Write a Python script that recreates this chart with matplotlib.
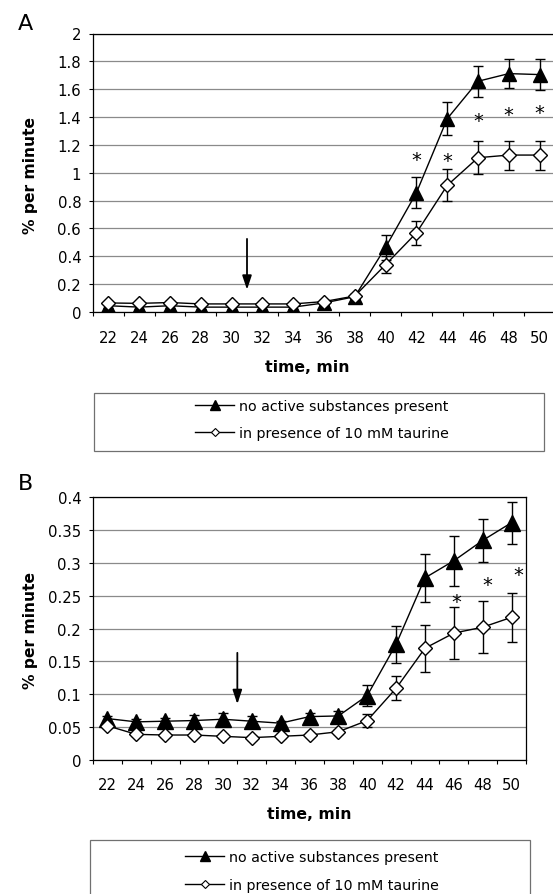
import numpy as np
import matplotlib
matplotlib.use("Agg")
import matplotlib.pyplot as plt
from matplotlib.lines import Line2D
from matplotlib.patches import Rectangle

# sampling times (min), one category per point
times = [22, 24, 26, 28, 30, 32, 34, 36, 38, 40, 42, 44, 46, 48, 50]

# panel A
a_control = [0.045, 0.035, 0.045, 0.035, 0.035, 0.035, 0.035, 0.065, 0.11,
             0.465, 0.856, 1.388, 1.657, 1.712, 1.705]
a_control_err = [0.015, 0.015, 0.015, 0.015, 0.015, 0.015, 0.015, 0.015, 0.02,
                 0.09, 0.11, 0.12, 0.11, 0.105, 0.11]
a_taurine = [0.065, 0.062, 0.068, 0.058, 0.058, 0.058, 0.058, 0.075, 0.115,
             0.34, 0.568, 0.909, 1.108, 1.127, 1.127]
a_taurine_err = [0.01, 0.01, 0.01, 0.01, 0.01, 0.01, 0.01, 0.01, 0.015,
                 0.06, 0.085, 0.115, 0.118, 0.104, 0.104]
a_star_idx = [10, 11, 12, 13, 14]
a_star_y = [1.132, 1.13, 1.412, 1.462, 1.472]
a_star_dx = [0, 0, 0, 0, 0]
a_yticks = [0, 0.2, 0.4, 0.6, 0.8, 1, 1.2, 1.4, 1.6, 1.8, 2]
a_yticklabels = ["0", "0.2", "0.4", "0.6", "0.8", "1", "1.2", "1.4", "1.6", "1.8", "2"]
a_arrow = (0.525, 0.16)

# panel B
b_control = [0.063, 0.058, 0.059, 0.060, 0.062, 0.059, 0.056, 0.066, 0.067,
             0.098, 0.176, 0.277, 0.303, 0.334, 0.361]
b_control_err = [0.004, 0.005, 0.005, 0.009, 0.010, 0.008, 0.004, 0.006, 0.007,
                 0.016, 0.028, 0.037, 0.038, 0.033, 0.032]
b_taurine = [0.052, 0.039, 0.038, 0.038, 0.036, 0.034, 0.036, 0.038, 0.043,
             0.060, 0.109, 0.170, 0.193, 0.202, 0.217]
b_taurine_err = [0.003, 0.003, 0.003, 0.003, 0.003, 0.003, 0.003, 0.003, 0.003,
                 0.010, 0.018, 0.036, 0.039, 0.040, 0.037]
b_star_idx = [12, 13, 14]
b_star_y = [0.25, 0.275, 0.29]
b_star_dx = [0.1, 0.15, 0.25]
b_yticks = [0, 0.05, 0.1, 0.15, 0.2, 0.25, 0.3, 0.35, 0.4]
b_yticklabels = ["0", "0.05", "0.1", "0.15", "0.2", "0.25", "0.3", "0.35", "0.4"]
b_arrow = (0.163, 0.085)

legend_labels = ["no active substances present", "in presence of 10 mM taurine"]

W, H = 553, 895
fig = plt.figure(figsize=(W / 100, H / 100), dpi=100)


def px_box(left, top, right, bottom):
    return [left / W, 1 - bottom / H, (right - left) / W, (bottom - top) / H]


def draw_panel(ax, ctrl, ctrl_err, taur, taur_err, yticks, ylabels,
               star_idx, star_y, star_dx, arrow, tri_ms, dia_ms, xpad):
    x = np.arange(len(times))
    ax.errorbar(x, ctrl, yerr=ctrl_err, fmt="none", ecolor="k",
                elinewidth=1.0, capsize=3.6, capthick=1.0, zorder=3)
    ax.errorbar(x, taur, yerr=taur_err, fmt="none", ecolor="k",
                elinewidth=1.0, capsize=3.6, capthick=1.0, zorder=3)
    ax.plot(x, ctrl, color="k", lw=1.0, marker="^", ms=tri_ms,
            mfc="k", mec="k", zorder=4)
    ax.plot(x, taur, color="k", lw=1.0, marker="D", ms=dia_ms,
            mfc="white", mec="k", mew=1.0, zorder=5)

    for i, y, dx in zip(star_idx, star_y, star_dx):
        ax.annotate("*", xy=(x[i] + dx, y), xytext=(0, -8.0),
                    textcoords="offset points", ha="center", va="baseline",
                    fontsize=14, zorder=6)

    ax.annotate("", xy=(4.5, arrow[1]), xytext=(4.5, arrow[0]),
                arrowprops=dict(arrowstyle="-|>,head_length=0.6,head_width=0.2",
                                color="k", lw=1.3, mutation_scale=14,
                                shrinkA=0, shrinkB=0), zorder=6)

    ax.set_xlim(-0.5, len(times) - 0.5)
    ax.set_ylim(yticks[0], yticks[-1])
    ax.set_yticks(yticks, labels=ylabels)
    ax.set_xticks(np.arange(-0.5, len(times), 1))
    ax.set_xticklabels([])
    ax.set_xticks(x, labels=[str(t) for t in times], minor=True)
    ax.tick_params(axis="x", which="major", direction="out", length=3,
                   width=0.8, color="k")
    ax.tick_params(axis="x", which="minor", length=0, pad=xpad,
                   labelsize=10.7)
    ax.tick_params(axis="y", direction="out", length=3, width=0.8,
                   pad=5.5, labelsize=10.7)
    ax.yaxis.grid(True, color="#8a8a8a", lw=0.9)
    ax.set_axisbelow(True)
    for s in ax.spines.values():
        s.set_color("k")
        s.set_linewidth(0.9)


def draw_legend(box, center, spacing):
    left, top, right, bottom = box
    fig.add_artist(Rectangle((left / W, 1 - bottom / H), (right - left) / W,
                             (bottom - top) / H, transform=fig.transFigure,
                             fill=False, edgecolor="#707070", lw=0.9))
    handles = [
        Line2D([], [], color="k", lw=1.0, marker="^", ms=6.5, mfc="k", mec="k"),
        Line2D([], [], color="k", lw=1.0, marker="D", ms=3.8, mfc="white",
               mec="k", mew=0.8),
    ]
    fig.legend(handles, legend_labels, loc="center",
               bbox_to_anchor=(center[0] / W, 1 - center[1] / H),
               frameon=False, fontsize=10.3, handlelength=2.7,
               handletextpad=0.35, labelspacing=spacing, borderpad=0)


# panel A
ax_a = fig.add_axes(px_box(93, 34.5, 555, 313))
draw_panel(ax_a, a_control, a_control_err, a_taurine, a_taurine_err,
           a_yticks, a_yticklabels, a_star_idx, a_star_y, a_star_dx,
           a_arrow, 10.5, 7.1, 13)
fig.text(25 / W, 1 - 24 / H, "A", fontsize=16, ha="center", va="center")
fig.text(31 / W, 1 - 176 / H, "% per minute", fontsize=11.2, fontweight="bold",
         rotation=90, ha="center", va="center")
fig.text(307 / W, 1 - 368 / H, "time, min", fontsize=11.3, fontweight="bold",
         ha="center", va="center")
draw_legend((94, 394, 544, 452), (322, 420.5), 0.88)

# panel B
ax_b = fig.add_axes(px_box(93, 498, 526, 761))
draw_panel(ax_b, b_control, b_control_err, b_taurine, b_taurine_err,
           b_yticks, b_yticklabels, b_star_idx, b_star_y, b_star_dx,
           b_arrow, 11, 7.5, 12)
fig.text(25 / W, 1 - 484 / H, "B", fontsize=16, ha="center", va="center")
fig.text(30 / W, 1 - 631 / H, "% per minute", fontsize=11.2, fontweight="bold",
         rotation=90, ha="center", va="center")
fig.text(309 / W, 1 - 815 / H, "time, min", fontsize=11.3, fontweight="bold",
         ha="center", va="center")
draw_legend((90, 841, 530, 910), (312, 872), 0.92)

fig.savefig("out.png", dpi=100)
